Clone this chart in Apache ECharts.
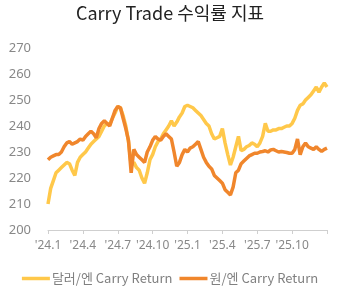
<!DOCTYPE html>
<html><head><meta charset="utf-8">
<script src="https://cdn.jsdelivr.net/npm/echarts@6/dist/echarts.min.js"></script>
<style>html,body{margin:0;padding:0;background:#fff}#c{width:340px;height:298px}</style>
</head><body><div id="c"></div>
<script>
const titleText = 'Carry Trade 수익률 지표';
const seriesNames = ['달러/엔 Carry Return', '원/엔 Carry Return'];
const xTickLabels = ["'24.1", "'24.4", "'24.7", "'24.10", "'25.1", "'25.4", "'25.7", "'25.10", ""];
const weeksPerTick = 13;
// weekly values, Jan 2024 .. Dec 2025
const usdJpy = [210,216,219,222,223,224,225,226,225.5,223,221,226,228,229,230,231.5,233,234,235,236,238,240,241,240.5,243,245,247.5,247,244,240,234,225,226,224,223,220,218,222,227,229,232,234,235,237,238.5,240,242,240,241.5,243.5,245,247.5,248,247.5,247,246,245,244,242.5,241,240,237,235,235.5,236,239,233.5,229,225,228,232,236,230.5,231,232,232.5,233.5,233,232,233.5,236,241,238,238,238.5,238.5,239,239,239.5,240,240,241,243,246,248,248.5,250,251,252,253.5,255,253,255,256.5,255];
const krwJpy = [227,228,228.5,229,229,230,232,233.5,234,233,233.5,234,235,234.5,236,237,238,237,235.5,239,241,242,241,240,243,246,247.5,247,243,239,234.5,222,231,229,228,227,226,230,232,234.5,236,235,234.5,236,237,236,235,230,224.5,226,229,231,230,231.5,232,233,234,231,228,226,224.5,223.5,221,220,219,218,215.5,214.5,213.5,216.5,222,223,225.5,226.5,227.5,228.5,229,229.5,229.5,230,230.2,230.5,230,230.8,231,230.5,230,230.2,230,229.8,229.5,229.5,231,235,229,232,233.5,232,231.5,231,232,231,230.2,231,231.5];
const yMin = 200, yMax = 270, yStep = 10;

const chart = echarts.init(document.getElementById('c'), null, {renderer: 'canvas'});
const toPairs = arr => arr.map((v, i) => [i, v]);
chart.setOption({
  animation: false,
  backgroundColor: '#fff',
  title: {
    text: titleText, left: 'center', top: -1,
    textStyle: {fontFamily: 'Noto Sans CJK KR', fontSize: 18, fontWeight: 'normal', color: '#222'}
  },
  legend: {
    data: seriesNames, bottom: 8, left: 'center', itemWidth: 28, itemHeight: 3.5, itemGap: 7,
    icon: 'rect',
    textStyle: {fontFamily: 'Noto Sans CJK KR', fontSize: 13, color: '#808080', padding: [0, 0, 0, -3]}
  },
  grid: {left: 48, right: 13, top: 48, bottom: 68, containLabel: false},
  xAxis: {
    type: 'value', min: 0, max: (xTickLabels.length - 1) * weeksPerTick, interval: weeksPerTick,
    axisLine: {show: true, lineStyle: {color: '#cfcfcf'}},
    axisTick: {show: true, length: 4, lineStyle: {color: '#cfcfcf'}},
    splitLine: {show: false},
    axisLabel: {
      color: '#888', fontFamily: 'Noto Sans', fontSize: 12, margin: 10,
      formatter: v => xTickLabels[Math.round(v / weeksPerTick)] || ''
    }
  },
  yAxis: {
    type: 'value', min: yMin, max: yMax, interval: yStep,
    axisLine: {show: false}, axisTick: {show: false}, splitLine: {show: false},
    axisLabel: {color: '#888', fontFamily: 'Noto Sans', fontSize: 13, margin: 17}
  },
  series: [
    {name: seriesNames[0], type: 'line', data: toPairs(usdJpy), showSymbol: false, symbol: 'none',
     lineStyle: {width: 3.5, color: '#FFC84A'}, itemStyle: {color: '#FFC84A'}},
    {name: seriesNames[1], type: 'line', data: toPairs(krwJpy), showSymbol: false, symbol: 'none',
     lineStyle: {width: 3.5, color: '#F0862C'}, itemStyle: {color: '#F0862C'}}
  ]
});
</script></body></html>
